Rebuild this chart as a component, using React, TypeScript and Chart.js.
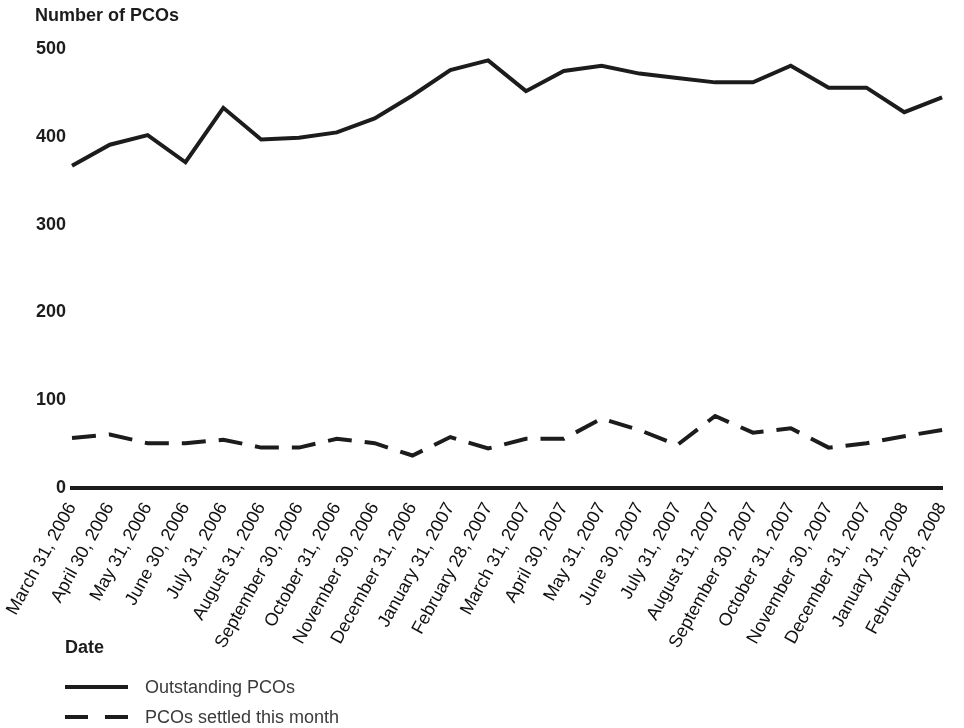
import React, { useEffect, useRef } from "react";
import { Chart, registerables } from "chart.js";

Chart.register(...registerables);

const dates = [
  "March 31, 2006", "April 30, 2006", "May 31, 2006", "June 30, 2006", "July 31, 2006",
  "August 31, 2006", "September 30, 2006", "October 31, 2006", "November 30, 2006",
  "December 31, 2006", "January 31, 2007", "February 28, 2007", "March 31, 2007",
  "April 30, 2007", "May 31, 2007", "June 30, 2007", "July 31, 2007", "August 31, 2007",
  "September 30, 2007", "October 31, 2007", "November 30, 2007", "December 31, 2007",
  "January 31, 2008", "February 28, 2008",
];

const outstanding = [
  367, 391, 402, 371, 433, 397, 399, 405, 421, 447, 476, 487,
  452, 475, 481, 472, 467, 462, 462, 481, 456, 456, 428, 445,
];

const settled = [
  57, 61, 51, 51, 55, 46, 46, 56, 51, 37, 58, 45,
  56, 56, 79, 66, 49, 82, 63, 68, 46, 51, 59, 66,
];

const yTicks = [0, 100, 200, 300, 400, 500];

const FONT = '"Liberation Sans", Arial, Helvetica, sans-serif';
const INK = "#1c1c1c";

const overlay = {
  id: "overlayText",
  afterDraw(chart: any) {
    const ctx = chart.ctx;
    ctx.save();
    ctx.fillStyle = INK;
    ctx.textBaseline = "middle";
    ctx.textAlign = "left";
    ctx.font = `bold 18px ${FONT}`;
    ctx.fillText("Number of PCOs", 35, 16);
    ctx.fillText("Date", 65, 648);

    ctx.strokeStyle = INK;
    ctx.lineWidth = 4;
    ctx.beginPath();
    ctx.moveTo(65, 687);
    ctx.lineTo(128, 687);
    ctx.stroke();
    ctx.setLineDash([23, 17]);
    ctx.beginPath();
    ctx.moveTo(65, 717);
    ctx.lineTo(128, 717);
    ctx.stroke();
    ctx.setLineDash([]);

    ctx.fillStyle = "#3a3a3a";
    ctx.font = `18px ${FONT}`;
    ctx.fillText("Outstanding PCOs", 145, 688);
    ctx.fillText("PCOs settled this month", 145, 718);
    ctx.restore();
  },
};

export default function App() {
  const ref = useRef<HTMLCanvasElement | null>(null);

  useEffect(() => {
    document.body.style.margin = "0";
    const canvas = ref.current;
    if (!canvas) return;
    const chart = new Chart(canvas, {
      type: "line",
      data: {
        labels: dates,
        datasets: [
          {
            label: "Outstanding PCOs",
            data: outstanding,
            borderColor: INK,
            borderWidth: 4,
            pointRadius: 0,
            tension: 0,
            fill: false,
          },
          {
            label: "PCOs settled this month",
            data: settled,
            borderColor: INK,
            borderWidth: 4,
            borderDash: [24, 13],
            pointRadius: 0,
            tension: 0,
            fill: false,
          },
        ],
      },
      options: {
        responsive: false,
        animation: false,
        layout: { padding: { left: 20, right: 19, top: 49, bottom: 0 } },
        plugins: {
          legend: { display: false },
          tooltip: { enabled: false },
          title: { display: false },
        },
        scales: {
          x: {
            type: "category",
            offset: false,
            grid: { display: false },
            border: { display: true, width: 4, color: INK },
            ticks: {
              color: "#111",
              font: { family: FONT, size: 18 },
              minRotation: 61,
              maxRotation: 61,
              autoSkip: false,
              padding: 3,
            },
            afterFit: (scale: any) => {
              scale.height = 240;
            },
          },
          y: {
            min: 0,
            max: 500,
            grid: { display: false, drawTicks: false },
            border: { display: false },
            afterBuildTicks: (scale: any) => {
              scale.ticks = yTicks.map((v) => ({ value: v }));
            },
            ticks: {
              color: INK,
              font: { family: FONT, size: 18, weight: "bold" },
              crossAlign: "near",
              padding: 6,
            },
            afterFit: (scale: any) => {
              scale.width = 52;
            },
          },
        },
      },
      plugins: [overlay],
    });
    return () => chart.destroy();
  }, []);

  return (
    <div style={{ position: "relative", width: 964, height: 728, background: "#fff" }}>
      <canvas ref={ref} width={964} height={728} />
    </div>
  );
}
